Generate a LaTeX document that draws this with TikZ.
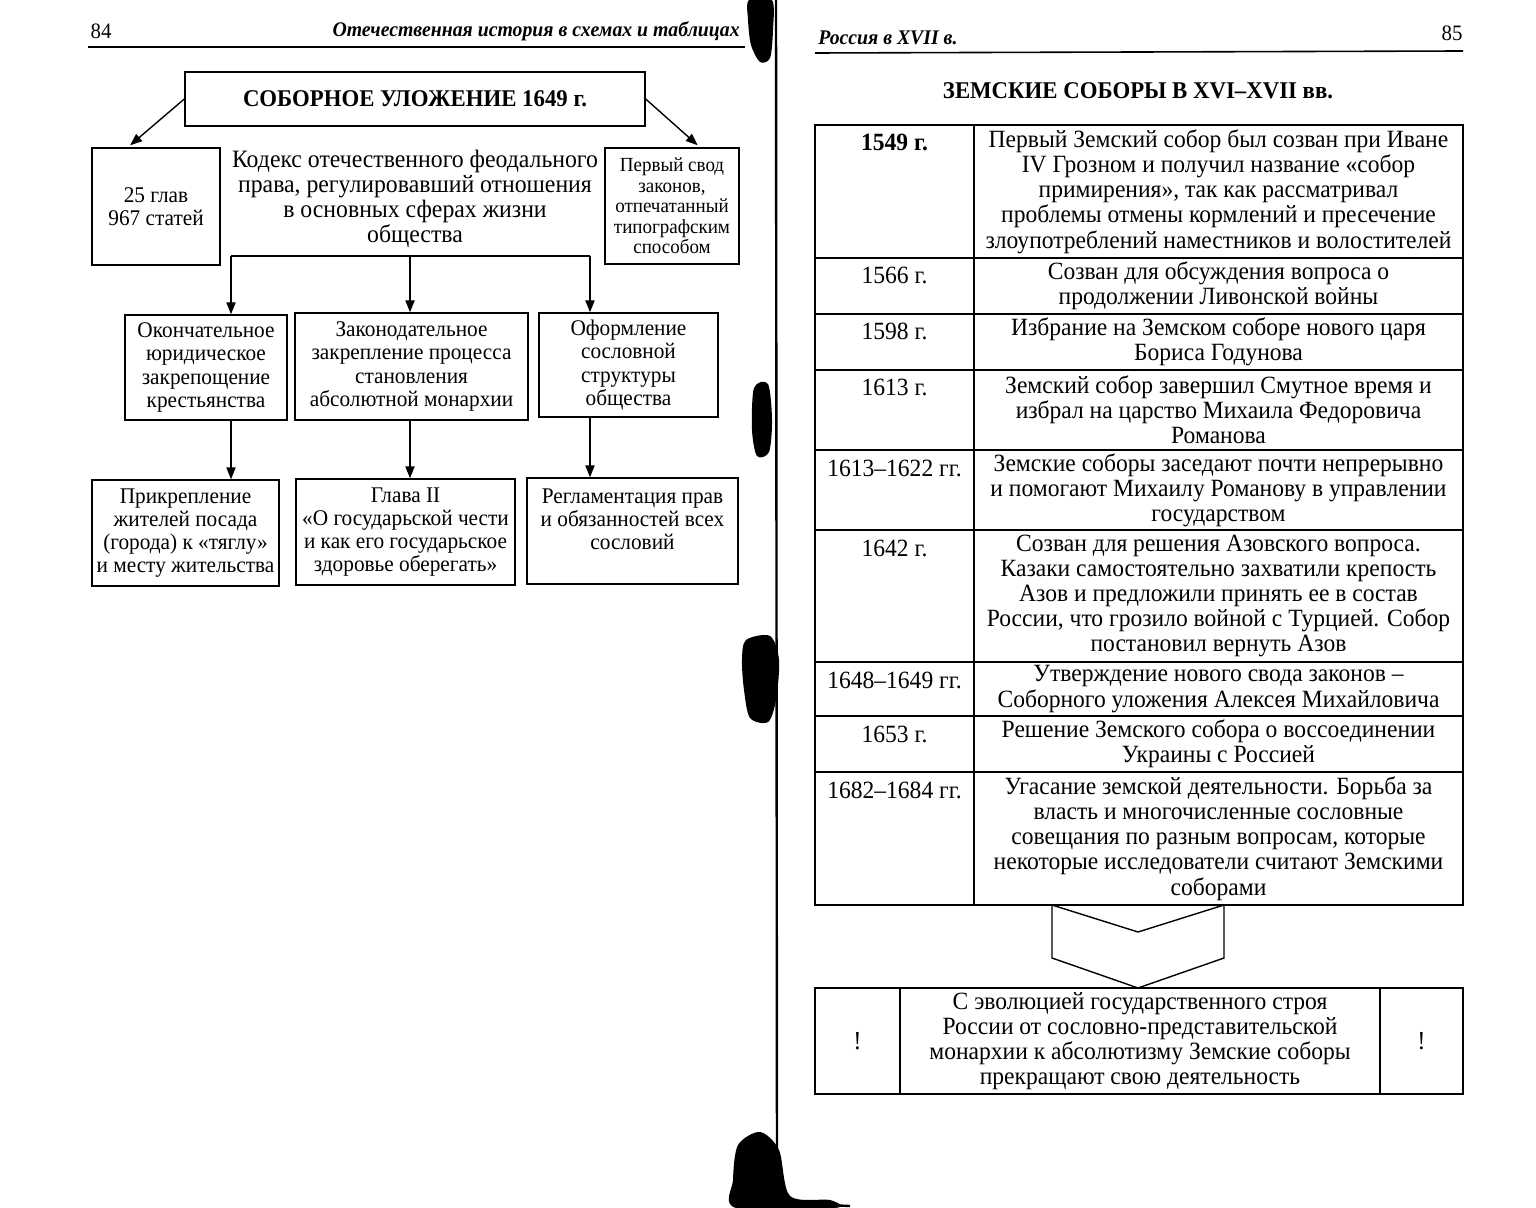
\documentclass[tikz,border=0pt]{standalone}
\usepackage{fontspec}
\setmainfont{Liberation Serif}[FakeStretch=0.95]
\usetikzlibrary{arrows.meta,calc}
\newcommand\zrow[5]{%
 \pgfmathsetmacro\rc{(#2+#3)/2}\pgfmathsetmacro\rh{(#3-#2)*0.5}%
 \node[cell, minimum width=79.5pt, minimum height=\rh pt] (d#1) at (894.5,\rc) {};
 \node[cell, tabf, minimum width=244.5pt, minimum height=\rh pt] (t#1) at (1218.5,\rc) {#5};
 \node[tabf, anchor=base] (y#1) at (894.5,#2+26) {#4};
}
\begin{document}
\begin{tikzpicture}[x=0.5pt,y=-0.5pt,
  box/.style={draw, line width=0.7pt, align=center, inner sep=0pt},
  cell/.style={draw, line width=0.7pt, align=center, inner sep=0pt},
  arr/.style={line width=0.7pt, -{Triangle[length=6pt,width=4.6pt]}},
  tabf/.style={font=\fontsize{12.4}{12.6}\selectfont, align=center, inner sep=0pt},
  midf/.style={font=\fontsize{11.2}{11.6}\selectfont},
  smallf/.style={font=\fontsize{10}{10.3}\selectfont},
  blob/.style={fill=black, draw=none}]
\fill[white] (0,0) rectangle (1536,1208);
\useasboundingbox (0,0) rectangle (1536,1208);

% ---------- left page ----------
\node[font=\fontsize{11}{12}\selectfont, anchor=base] (p84) at (101,39) {84};
\node[font=\fontsize{10.4}{12}\bfseries\itshape\selectfont, anchor=base east, inner sep=0pt] (hl) at (740,37) {Отечественная история в схемах и таблицах};
\draw[line width=0.8pt] (88,47) -- (745,47);

\node[box, minimum width=230pt, minimum height=27pt, font=\fontsize{12}{13}\bfseries\selectfont] (title) at (415,99) {СОБОРНОЕ УЛОЖЕНИЕ 1649 г.};
\node[box, midf, minimum width=64pt, minimum height=58.5pt] (glav) at (156,206.5) {25 глав\\967 статей};
\node[box, smallf, minimum width=67pt, minimum height=58pt] (svod) at (672,206) {Первый свод\\законов,\\отпечатанный\\типографским\\способом};
\node[align=center, inner sep=0pt, font=\fontsize{12.5}{12.5}\selectfont] (kodeks) at (415,199) {Кодекс отечественного феодального\\права, регулировавший отношения\\в основных сферах жизни\\общества};

\draw[arr] (title.west) -- ($(glav.north west)!0.3!(glav.north east)+(0,-2)$);
\draw[arr] (title.east) -- ($(svod.north west)!0.69!(svod.north east)+(0,-2)$);

\node[box, midf, minimum width=81pt, minimum height=52.5pt] (A) at (206,367.5) {Окончательное\\юридическое\\закрепощение\\крестьянства};
\node[box, midf, minimum width=116.5pt, minimum height=53.5pt] (B) at (411.5,366.5) {Законодательное\\закрепление процесса\\становления\\абсолютной монархии};
\node[box, midf, minimum width=89.5pt, minimum height=52pt] (C) at (628.5,365) {Оформление\\сословной\\структуры\\общества};

\coordinate (bL) at (231,256);
\coordinate (bM) at (410,256);
\coordinate (bR) at (590,256);
\draw[line width=0.7pt] (bL) -- (bR);
\draw[arr] (bL) -- (bL |- A.north);
\draw[arr] (bM) -- (bM |- B.north);
\draw[arr] (bR) -- (bR |- C.north);

\node[box, midf, minimum width=93.5pt, minimum height=53pt] (D) at (185.5,533) {Прикрепление\\жителей посада\\(города) к «тяглу»\\и месту жительства};
\node[box, midf, minimum width=109.5pt, minimum height=53pt] (E) at (405.5,532) {Глава II\\«О государьской чести\\и как его государьское\\здоровье оберегать»};
\node[box, midf, minimum width=105.5pt, minimum height=53pt] (F) at (632.5,531) {Регламентация прав\\и обязанностей всех\\сословий\\~};

\draw[arr] (bL |- A.south) -- (bL |- D.north);
\draw[arr] (bM |- B.south) -- (bM |- E.north);
\draw[arr] (bR |- C.south) -- (bR |- F.north);

% ---------- spine and scan marks ----------
\draw[line width=1.2pt] (776,0) -- (777,1185) .. controls (778,1200) and (800,1204) .. (850,1206);
\path[blob] plot[smooth cycle] coordinates {(749,0) (772,0) (773,30) (770,58) (760,62) (751,45) (748,20)};
\path[blob] plot[smooth cycle] coordinates {(754,388) (768,384) (772,420) (769,452) (757,456) (752,430)};
\path[blob] plot[smooth cycle] coordinates {(746,640) (770,636) (779,660) (776,700) (768,722) (750,718) (744,690) (742,660)};
\path[blob] plot[smooth cycle] coordinates {(738,1145) (760,1132) (779,1150) (790,1196) (830,1200) (835,1208) (736,1208) (733,1180)};

% ---------- right page ----------
\node[font=\fontsize{10.4}{12}\bfseries\itshape\selectfont, anchor=base west, inner sep=0pt] (hr) at (818,45) {Россия в XVII в.};
\node[font=\fontsize{11}{12}\selectfont, anchor=base east, inner sep=0pt] (p85) at (1463,41) {85};
\draw[line width=0.8pt] (815,53) -- (1463,51);

\node[font=\fontsize{12}{13}\bfseries\selectfont, inner sep=0pt] (ztitle) at (1138,91) {ЗЕМСКИЕ СОБОРЫ В XVI–XVII вв.};

\zrow{1}{125}{258}{\bfseries 1549 г.}{Первый Земский собор был созван при Иване\\IV Грозном и получил название «собор\\примирения», так как рассматривал\\проблемы отмены кормлений и пресечение\\злоупотреблений наместников и волостителей}
\zrow{2}{258}{314}{1566 г.}{Созван для обсуждения вопроса о\\продолжении Ливонской войны}
\zrow{3}{314}{370}{1598 г.}{Избрание на Земском соборе нового царя\\Бориса Годунова}
\zrow{4}{370}{450}{1613 г.}{Земский собор завершил Смутное время и\\избрал на царство Михаила Федоровича\\Романова}
\zrow{5}{450}{530}{1613–1622 гг.}{Земские соборы заседают почти непрерывно\\и помогают Михаилу Романову в управлении\\государством}
\zrow{6}{530}{662}{1642 г.}{Созван для решения Азовского вопроса.\\Казаки самостоятельно захватили крепость\\Азов и предложили принять ее в состав\\России, что грозило войной с Турцией. Собор\\постановил вернуть Азов}
\zrow{7}{662}{716}{1648–1649 гг.}{Утверждение нового свода законов –\\Соборного уложения Алексея Михайловича}
\zrow{8}{716}{772}{1653 г.}{Решение Земского собора о воссоединении\\Украины с Россией}
\zrow{9}{772}{905}{1682–1684 гг.}{Угасание земской деятельности. Борьба за\\власть и многочисленные сословные\\совещания по разным вопросам, которые\\некоторые исследователи считают Земскими\\соборами}

\draw[line width=0.7pt] (1052,905) -- (1138,932) -- (1224,905) -- (1224,958) -- (1138,988) -- (1052,958) -- cycle;

\node[cell, minimum width=42.5pt, minimum height=53pt, font=\fontsize{13}{14}\selectfont] (exL) at (857.5,1041) {!};
\node[cell, tabf, minimum width=240pt, minimum height=53pt] (evo) at (1140,1041) {С эволюцией государственного строя\\России от сословно-представительской\\монархии к абсолютизму Земские соборы\\прекращают свою деятельность};
\node[cell, minimum width=41.5pt, minimum height=53pt, font=\fontsize{13}{14}\selectfont] (exR) at (1421.5,1041) {!};
\end{tikzpicture}
\end{document}
